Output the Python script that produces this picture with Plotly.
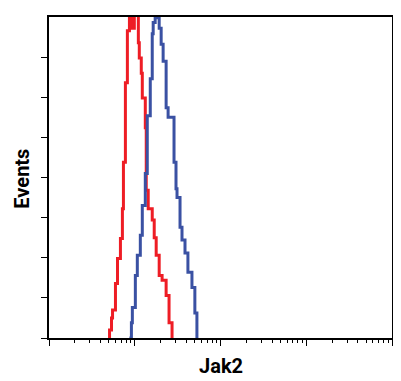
import numpy as np
import plotly.graph_objects as go

# Log10 fluorescence (Jak2) positions of histogram steps and event counts
red_log_fl = [0.706, 0.706, 0.729, 0.741, 0.775, 0.799, 0.833, 0.856, 0.868, 0.891, 0.914,
              0.938, 0.972, 0.995, 1.042, 1.053, 1.076, 1.088, 1.123, 1.134, 1.157, 1.204,
              1.227, 1.250, 1.285, 1.319, 1.366, 1.400, 1.435]
red_counts = [0, 10, 25, 35, 68, 99, 124, 161, 219, 318, 383,
              445, 386, 445, 368, 349, 330, 299, 262, 184, 161, 147,
              125, 103, 78, 72, 53, 19, 0]

blue_log_fl = [0.9375, 0.961, 0.972, 1.007, 1.030, 1.065, 1.088, 1.123, 1.146, 1.181, 1.204,
               1.215, 1.238, 1.285, 1.308, 1.331, 1.366, 1.389, 1.458, 1.481, 1.493, 1.528,
               1.551, 1.586, 1.620, 1.667, 1.701, 1.725]
blue_counts = [0, 19, 38, 78, 103, 128, 165, 205, 277, 323, 379,
               393, 399, 386, 366, 345, 287, 275, 219, 186, 175, 138,
               122, 106, 82, 63, 31, 0]

y_tickvals = [0, 50, 100, 150, 200, 250, 300, 350]
x_major = [1, 10, 100, 1000, 10000]
x_minor = [m * d for d in [1, 10, 100, 1000] for m in range(2, 10)]

fig = go.Figure()
fig.add_trace(go.Scatter(x=10 ** np.array(red_log_fl), y=red_counts, mode="lines",
                         line=dict(color="#EE1D25", width=3, shape="hv"),
                         showlegend=False, cliponaxis=True))
fig.add_trace(go.Scatter(x=10 ** np.array(blue_log_fl), y=blue_counts, mode="lines",
                         line=dict(color="#3A51A3", width=3, shape="hv"),
                         showlegend=False, cliponaxis=True))

fig.update_layout(
    width=393, height=373,
    margin=dict(l=41, r=7, t=8, b=43),
    paper_bgcolor="white", plot_bgcolor="white",
    font=dict(family="Liberation Sans Narrow, Arial Narrow, Roboto, sans-serif", color="black"),
    xaxis=dict(type="log", range=[0, 4], showgrid=False, zeroline=False,
               showline=True, linecolor="black", linewidth=1.8, mirror=True,
               tickmode="array", tickvals=x_major, ticks="outside", ticklen=6,
               tickwidth=1.4, tickcolor="black", showticklabels=False,
               minor=dict(tickmode="array", tickvals=x_minor, ticks="outside",
                          ticklen=3, tickwidth=1.2, tickcolor="black", showgrid=False)),
    yaxis=dict(range=[0, 400], showgrid=False, zeroline=False,
               showline=True, linecolor="black", linewidth=1.8, mirror=True,
               tickmode="array", tickvals=y_tickvals, ticks="outside", ticklen=6,
               tickwidth=1.4, tickcolor="black", showticklabels=False),
    annotations=[
        dict(text="<b>Events</b>", xref="paper", yref="paper",
             x=(22 - 49) / 345, y=(338 - 178) / 322, textangle=-90,
             showarrow=False, xanchor="center", yanchor="middle",
             font=dict(size=20)),
        dict(text="<b>Jak2</b>", xref="paper", yref="paper",
             x=(222 - 49) / 345, y=(338 - 366) / 322,
             showarrow=False, xanchor="center", yanchor="middle",
             font=dict(size=20)),
    ],
)

fig.write_html("out.html")
